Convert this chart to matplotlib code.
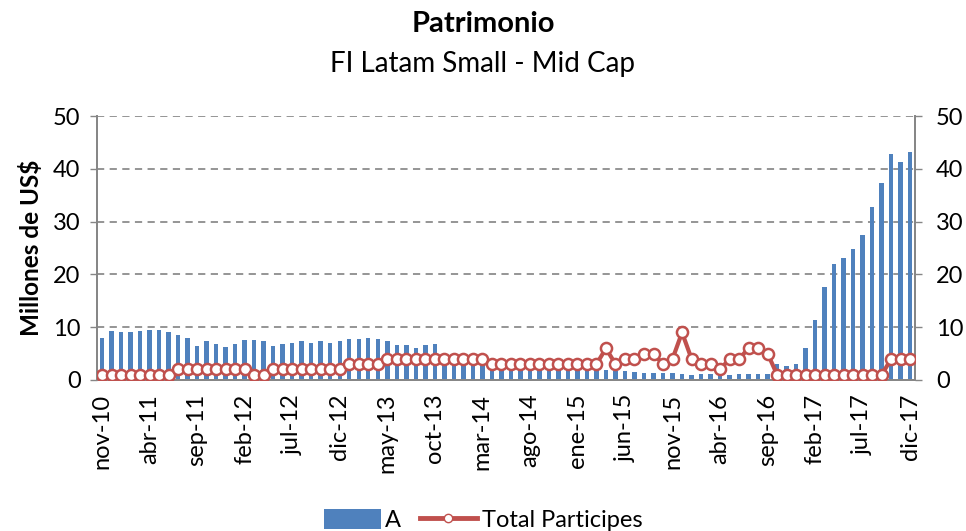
import matplotlib
matplotlib.use("Agg")
import matplotlib.pyplot as plt
from matplotlib.patches import Patch
from matplotlib.lines import Line2D
import numpy as np

plt.rcParams['font.family'] = ['Lato', 'DejaVu Sans']

# ---- data ----
patrimonio_A = [8.0, 9.2, 9.0, 9.0, 9.2, 9.5, 9.5, 9.0, 8.5, 8.0,
                6.5, 7.4, 6.9, 6.2, 6.9, 7.6, 7.6, 7.4, 6.5, 6.8,
                7.0, 7.3, 7.1, 7.3, 7.1, 7.3, 7.8, 7.8, 7.9, 7.8,
                7.3, 6.6, 6.6, 6.1, 6.6, 6.9, 3.6, 3.4, 3.3, 3.2,
                3.1, 2.9, 2.8, 2.7, 2.6, 2.5, 2.5, 2.4, 2.4, 2.3,
                2.3, 2.2, 2.1, 1.9, 1.7, 1.7, 1.5, 1.4, 1.4, 1.3,
                1.3, 1.2, 0.95, 1.1, 1.1, 1.0, 1.0, 1.1, 1.1, 1.1,
                1.2, 3.0, 2.7, 3.0, 6.0, 11.3, 17.6, 22.0, 23.2, 24.9,
                27.4, 32.7, 37.4, 42.8, 41.3, 43.1]

total_participes = [1, 1, 1, 1, 1, 1, 1, 1, 2, 2,
                    2, 2, 2, 2, 2, 2, 1, 1, 2, 2,
                    2, 2, 2, 2, 2, 2, 3, 3, 3, 3,
                    4, 4, 4, 4, 4, 4, 4, 4, 4, 4,
                    4, 3, 3, 3, 3, 3, 3, 3, 3, 3,
                    3, 3, 3, 6, 3, 4, 4, 5, 5, 3,
                    4, 9, 4, 3, 3, 2, 4, 4, 6, 6,
                    5, 1, 1, 1, 1, 1, 1, 1, 1, 1,
                    1, 1, 1, 4, 4, 4]

tick_labels = ['nov-10', 'abr-11', 'sep-11', 'feb-12', 'jul-12', 'dic-12',
               'may-13', 'oct-13', 'mar-14', 'ago-14', 'ene-15', 'jun-15',
               'nov-15', 'abr-16', 'sep-16', 'feb-17', 'jul-17', 'dic-17']
tick_step = 5
y_ticks = [0, 10, 20, 30, 40, 50]

# ---- figure ----
fig = plt.figure(figsize=(9.66, 5.31), dpi=100)
ax = fig.add_axes([0.1007, 0.2844, 0.8465, 0.4971])
ax2 = ax.twinx()

x = np.arange(len(patrimonio_A))
bar_color = '#4F81BD'
line_color = '#C0504D'
axis_gray = '#868686'

ax.bar(x, patrimonio_A, width=0.47, color=bar_color, zorder=2)
ax2.plot(x, total_participes, color=line_color, lw=3, marker='o',
         markersize=8, markerfacecolor='white', markeredgecolor=line_color,
         markeredgewidth=1.8, zorder=3)

for a in (ax, ax2):
    a.set_ylim(0, 50)
    a.set_yticks(y_ticks)
    a.set_xlim(-0.5, len(x) - 0.5)
    a.tick_params(axis='y', labelsize=17, length=5, color=axis_gray, width=1,
                  pad=7)
    for s in a.spines.values():
        s.set_color(axis_gray)
        s.set_linewidth(1.3)
    a.spines['top'].set_visible(False)
ax2.tick_params(axis='y', pad=10)

ax.yaxis.grid(True, linestyle=(0, (4, 3)), color='#8c8c8c', lw=1.3, zorder=0)
ax.set_axisbelow(True)

ax.set_xticks(x[::tick_step])
ax.set_xticklabels(tick_labels, rotation=90, fontsize=17)
ax.tick_params(axis='x', length=0, pad=10)

ax.set_ylabel('Millones de US\\$', fontsize=17.5, fontweight='bold', labelpad=7)

fig.text(0.5, 0.955, 'Patrimonio', ha='center', va='center', fontsize=21,
         fontweight='bold')
fig.text(0.5, 0.879, 'FI Latam Small - Mid Cap', ha='center', va='center',
         fontsize=20)

handles = [Patch(facecolor=bar_color, edgecolor='none'),
           Line2D([0], [0], color=line_color, lw=3.5, marker='o', markersize=6,
                  markerfacecolor='white', markeredgecolor=line_color)]
fig.legend(handles, ['A', 'Total Participes'], loc='lower center',
           bbox_to_anchor=(0.5, -0.04), ncol=2, frameon=False, fontsize=17,
           handlelength=2.4, handleheight=0.9, columnspacing=0.8,
           handletextpad=0.2)

fig.savefig('out.png', dpi=100)
